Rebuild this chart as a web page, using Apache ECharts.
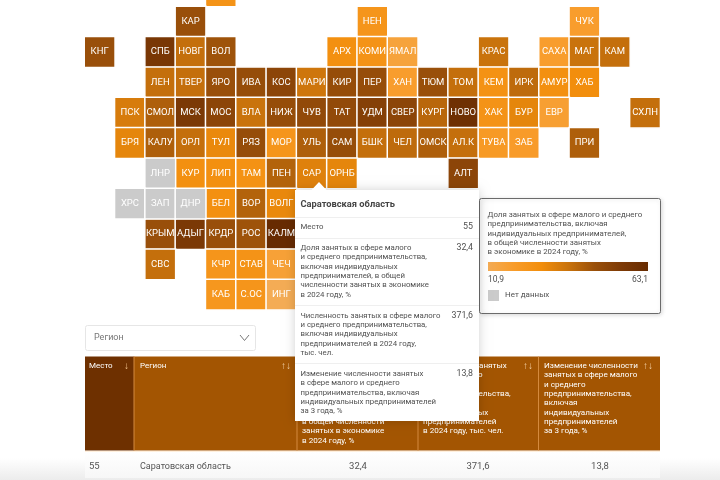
<!DOCTYPE html>
<html><head><meta charset="utf-8">
<style>html,body{margin:0;padding:0;background:#fff}#c{width:720px;height:480px}</style>
<script src="https://cdn.jsdelivr.net/npm/echarts@6/dist/echarts.min.js"></script>
</head><body><div id="c"></div>
<script>
const FONT='Roboto, sans-serif';
const columns=['0','1','2','3','4','5','6','7','8','9','10','11','12','13','14','15','16','17','18'];
const rows=['0','1','2','3','4','5','6','7','8','9','10'];
const row0=[['МУР',4,25]];
const row1=[['КАР',3,46],['НЕН',9,24],['ЧУК',16,19]];
const row2=[['КНГ',0,46],['СПБ',2,56],['НОВГ',3,38],['ВОЛ',4,45],['АРХ',8,27],['КОМИ',9,25],['ЯМАЛ',10,16],['КРАС',13,37],['САХА',15,19],['МАГ',16,37],['КАМ',17,38]];
const row3=[['ЛЕН',2,38],['ТВЕР',3,38],['ЯРО',4,46],['ИВА',5,47],['КОС',6,50],['МАРИ',7,36],['КИР',8,47],['ПЕР',9,47],['ХАН',10,19],['ТЮМ',11,46],['ТОМ',12,38],['КЕМ',13,26],['ИРК',14,39],['АМУР',15,27],['ХАБ',16,28]];
const row4=[['ПСК',1,34],['СМОЛ',2,42],['МСК',3,55],['МОС',4,50],['ВЛА',5,37],['НИЖ',6,47],['ЧУВ',7,48],['ТАТ',8,48],['УДМ',9,52],['СВЕР',10,50],['КУРГ',11,40],['НОВО',12,60],['ХАК',13,25],['БУР',14,31],['ЕВР',15,18],['СХЛН',18,38]];
const row5=[['БРЯ',1,31],['КАЛУ',2,42],['ОРЛ',3,38],['ТУЛ',4,30],['РЯЗ',5,47],['МОР',6,24],['УЛЬ',7,42],['САМ',8,47],['БШК',9,38],['ЧЕЛ',10,39],['ОМСК',11,42],['АЛ.К',12,38],['ТУВА',13,21],['ЗАБ',14,20],['ПРИ',16,42]];
const row6=[['КУР',3,27],['ЛИП',4,27],['ТАМ',5,26],['ПЕН',6,41],['САР',7,32.4],['ОРНБ',8,31],['АЛТ',12,50]];
const row7=[['БЕЛ',4,27],['ВОР',5,41],['ВОЛГ',6,30]];
const row8=[['КРЫМ',2,46],['АДЫГ',3,55],['КРДР',4,46],['РОС',5,45],['КАЛМ',6,63.1]];
const row9=[['СВС',2,38],['КЧР',4,24],['СТАВ',5,25],['ЧЕЧ',6,17]];
const row10=[['КАБ',4,23],['С.ОС',5,24],['ИНГ',6,10.9]];
const allRows=[row0,row1,row2,row3,row4,row5,row6,row7,row8,row9,row10];
const noData=[['ЛНР',2,6],['ХРС',1,7],['ЗАП',2,7],['ДНР',3,7]];
const ramp=['#F4AC55','#F89C2A','#F28E0C','#C9730C','#9A500A','#7D3A06','#672B01'];
const valueMin=10.9,valueMax=63.1;

const legendTitle=['Доля занятых в сфере малого и среднего','предпринимательства, включая','индивидуальных предпринимателей,','в общей численности занятых','в экономике в 2024 году, %'];
const tableHeaders=[
 ['Доля занятых в сфере','малого и среднего','предпринимательства,','включая','индивидуальных','предпринимателей,','в общей численности','занятых в экономике','в 2024 году, %'],
 ['Численность занятых','в сфере малого','и среднего','предпринимательства,','включая','индивидуальных','предпринимателей','в 2024 году, тыс. чел.'],
 ['Изменение численности','занятых в сфере малого','и среднего','предпринимательства,','включая','индивидуальных','предпринимателей','за 3 года, %']];
const tableRow=['55','Саратовская область','32,4','371,6','13,8'];
const tipTitle='Саратовская область';
const tipRows=[
 [['Место'],'55'],
 [['Доля занятых в сфере малого','и среднего предпринимательства,','включая индивидуальных','предпринимателей, в общей','численности занятых в экономике','в 2024 году, %'],'32,4'],
 [['Численность занятых в сфере малого','и среднего предпринимательства,','включая индивидуальных','предпринимателей в 2024 году,','тыс. чел.'],'371,6'],
 [['Изменение численности занятых','в сфере малого и среднего','предпринимательства, включая','индивидуальных предпринимателей','за 3 года, %'],'13,8']];

const seriesData=[];
allRows.forEach((r,ri)=>r.forEach(t=>seriesData.push({name:t[0],value:[t[1],ri,t[2]]})));
const greyData=noData.map(t=>({name:t[0],value:[t[1],t[2],0]}));

const T=(x,y,text,o={})=>({type:'text',z:o.z||3,x,y,silent:true,style:{text,fill:o.fill||'#555',fontSize:o.size||9,fontFamily:FONT,fontWeight:o.weight||'normal',align:o.align||'left',verticalAlign:'middle'}});
const R=(x,y,w,h,fill,o={})=>({type:'rect',z:o.z||2,silent:true,shape:{x,y,width:w,height:h,r:o.r||0},style:Object.assign({fill,stroke:o.stroke||null,lineWidth:o.lw||0},o.style||{})});
const L=(a,b,c,d,stroke,z,w)=>({type:'line',z,silent:true,shape:{x1:a,y1:b,x2:c,y2:d},style:{stroke,lineWidth:w||1}});
const vGrad=(a,b)=>new echarts.graphic.LinearGradient(0,0,0,1,[{offset:0,color:a},{offset:1,color:b}]);
const LH=9.33;
const g=[];
// bottom band
g.push(R(0,458,720,22,vGrad('#ffffff','#ececec'),{z:0}));
g.push(R(85,452,575,26,vGrad('#ffffff','#f7f7f7'),{z:0}));
g.push(L(85,478.5,660,478.5,'#b9b9b9',1));
// legend
g.push(R(479.5,198.5,181,115,'#fff',{z:1,stroke:'#6b6b6b',lw:1,r:2,style:{shadowBlur:4,shadowColor:'rgba(0,0,0,0.15)',shadowOffsetX:1,shadowOffsetY:1}}));
legendTitle.forEach((s,i)=>g.push(T(487.5,215+i*LH,s,{z:2,fill:'#505050',size:7.9})));
g.push({type:'rect',z:2,silent:true,shape:{x:488,y:262,width:160,height:9},style:{fill:new echarts.graphic.LinearGradient(0,0,1,0,ramp.map((c,i)=>({offset:i/(ramp.length-1),color:c})))}});
g.push(T(488,280,'10,9',{z:2,fill:'#505050',size:8.5}));
g.push(T(648,280,'63,1',{z:2,fill:'#505050',size:8.5,align:'right'}));
g.push(R(488,290,11,11,'#CBCBCB',{z:2}));
g.push(T(505,295,'Нет данных',{z:2,fill:'#505050',size:8}));
// dropdown
g.push(R(85.5,325.5,170,25,'#fff',{z:1,stroke:'#e6e6e6',lw:1,r:2}));
g.push(T(94,338,'Регион',{z:2,fill:'#777',size:9}));
g.push({type:'polyline',z:2,silent:true,shape:{points:[[240,335],[244.5,340.5],[249,335]]},style:{stroke:'#777',lineWidth:1,fill:null}});
// table header
const colX=[85,134,297,418,538.5,660];
const headFill=['#6E3000','#A35502','#A35502','#A35502','#A35502'];
g.push(R(85,451,575,2,'#FFF0DE',{z:1}));
colX.slice(0,5).forEach((x,i)=>g.push(R(x,356.5,colX[i+1]-x,94,headFill[i],{z:2})));
colX.slice(1,5).forEach(x=>g.push(L(x,356.5,x,450.5,'#D48A3E',2.5)));
g.push(T(89,366,'Место',{z:3,fill:'#fff',size:8}));
g.push(T(124,366.5,'↓',{z:3,fill:'#F5C48C',size:10}));
g.push(T(140,366,'Регион',{z:3,fill:'#fff',size:8}));
g.push(T(281,366.5,'↑↓',{z:3,fill:'#F5D3A8',size:10}));
const headX=[302,423,544], iconX=[402,523,643];
tableHeaders.forEach((h,i)=>{
  h.forEach((s,k)=>g.push(T(headX[i],366+k*LH,s,{z:3,fill:'#fff',size:8.1})));
  g.push(T(iconX[i],366.5,'↑↓',{z:3,fill:'#F5D3A8',size:10}));
});
// table row
g.push(T(89,467,tableRow[0],{fill:'#555',size:9.5}));
g.push(T(140,467,tableRow[1],{fill:'#555',size:9}));
g.push(T(358,467,tableRow[2],{fill:'#555',size:9.5,align:'center'}));
g.push(T(478,467,tableRow[3],{fill:'#555',size:9.5,align:'center'}));
g.push(T(600,467,tableRow[4],{fill:'#555',size:9.5,align:'center'}));
// tooltip
const Z=10;
g.push(R(295,190,184,231,'#fff',{z:Z,style:{shadowBlur:10,shadowColor:'rgba(0,0,0,0.18)'}}));
g.push({type:'polygon',z:Z,silent:true,shape:{points:[[311,190.5],[319,182],[327,190.5]]},style:{fill:'#fff'}});
g.push(T(300.5,205,tipTitle,{z:Z+1,fill:'#444',size:9.3,weight:'bold'}));
const sepY=[217,238,305,363], startY=[227,248,315.7,374];
sepY.forEach(y=>g.push(L(295,y+.5,479,y+.5,'#efefef',Z+1)));
tipRows.forEach((r,i)=>{
  r[0].forEach((s,k)=>g.push(T(300.5,startY[i]+k*LH,s,{z:Z+1,fill:'#505050',size:7.8})));
  g.push(T(473,startY[i],r[1],{z:Z+1,fill:'#505050',size:8.8,align:'right'}));
});

const chart=echarts.init(document.getElementById('c'),null,{renderer:'canvas'});
chart.setOption({
  animation:false,
  backgroundColor:'#fff',
  textStyle:{fontFamily:FONT},
  grid:{left:84.5,top:-23.8,width:575.7,height:333.6,containLabel:false,outerBoundsMode:'none'},
  xAxis:{type:'category',data:columns,show:false},
  yAxis:{type:'category',data:rows,inverse:true,show:false},
  visualMap:{type:'continuous',show:false,seriesIndex:0,dimension:2,min:valueMin,max:valueMax,inRange:{color:ramp}},
  series:[
   {type:'heatmap',data:seriesData,encode:{x:0,y:1,value:2},
    label:{show:true,formatter:'{b}',color:'#fff',fontSize:9.5,fontFamily:FONT},
    itemStyle:{borderColor:'#fff',borderWidth:1.5},emphasis:{disabled:true}},
   {type:'heatmap',data:greyData,encode:{x:0,y:1,value:2},
    label:{show:true,formatter:'{b}',color:'#fff',fontSize:9.5,fontFamily:FONT},
    itemStyle:{color:'#CBCBCB',borderColor:'#fff',borderWidth:1.5},emphasis:{disabled:true}}
  ],
  graphic:{elements:g}
});
</script></body></html>
